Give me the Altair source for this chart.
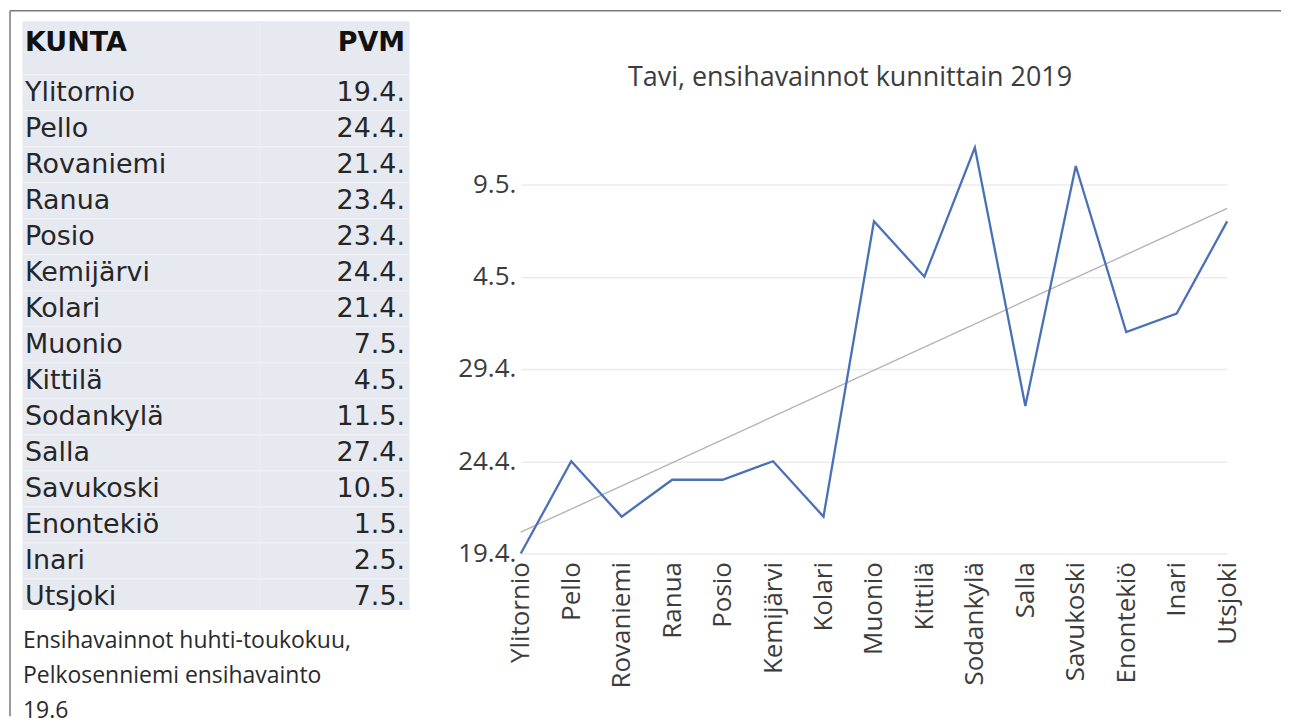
import altair as alt
import pandas as pd
from datetime import date

# ---------------- data ----------------
kunnat = ["Ylitornio", "Pello", "Rovaniemi", "Ranua", "Posio", "Kemijärvi", "Kolari",
          "Muonio", "Kittilä", "Sodankylä", "Salla", "Savukoski", "Enontekiö", "Inari", "Utsjoki"]
pvm = ["19.4.", "24.4.", "21.4.", "23.4.", "23.4.", "24.4.", "21.4.",
       "7.5.", "4.5.", "11.5.", "27.4.", "10.5.", "1.5.", "2.5.", "7.5."]
y_tick_labels = ["19.4.", "24.4.", "29.4.", "4.5.", "9.5."]
header = ["KUNTA", "PVM"]
notes = ["Ensihavainnot huhti-toukokuu,", "Pelkosenniemi ensihavainto", "19.6"]
title_text = "Tavi, ensihavainnot kunnittain 2019"


def to_date(s):
    d, m = s.strip(".").split(".")
    return date(2019, int(m), int(d))


base_day = to_date(y_tick_labels[0])
days = [(to_date(s) - base_day).days for s in pvm]
tick_days = [(to_date(s) - base_day).days for s in y_tick_labels]

df = pd.DataFrame({"idx": list(range(len(kunnat))), "kunta": kunnat, "pvm": pvm, "days": days})
seps = pd.DataFrame({"sep": [i - 0.5 for i in range(len(kunnat))]})
one = pd.DataFrame({"a": [0]})

# ---------------- table (left) ----------------
TABLE_W, TABLE_H = 388, 590
FIRST_ROW, ROW_H = 72, 36.1
TFONT = "DejaVu Sans"
TCOL = "#262626"

tab_scale = alt.Scale(domain=[-FIRST_ROW / ROW_H, (TABLE_H - FIRST_ROW) / ROW_H],
                      reverse=True, nice=False, zero=False)
y_tab = alt.Y("idx:Q", axis=None, scale=tab_scale)

sep_rules = alt.Chart(seps).mark_rule(color="#f1f2f6", strokeWidth=1.2).encode(
    y=alt.Y("sep:Q", axis=None, scale=tab_scale),
    x=alt.value(0), x2=alt.value(TABLE_W))
vsep = alt.Chart(one).mark_rule(color="#eceef4", strokeWidth=1.2).encode(
    x=alt.value(238), y=alt.value(0), y2=alt.value(TABLE_H))

names = alt.Chart(df).mark_text(align="left", baseline="middle", font=TFONT, fontSize=27,
                                color=TCOL).encode(x=alt.value(3), y=y_tab, text="kunta:N")
dates = alt.Chart(df).mark_text(align="right", baseline="middle", font=TFONT, fontSize=27,
                                color=TCOL).encode(x=alt.value(384), y=y_tab, text="pvm:N")
h1 = alt.Chart(pd.DataFrame({"t": [header[0]]})).mark_text(
    align="left", baseline="middle", font=TFONT, fontSize=27, fontWeight="bold", color="#111111"
).encode(x=alt.value(3), y=alt.value(22), text="t:N")
h2 = alt.Chart(pd.DataFrame({"t": [header[1]]})).mark_text(
    align="right", baseline="middle", font=TFONT, fontSize=27, fontWeight="bold", color="#111111"
).encode(x=alt.value(384), y=alt.value(22), text="t:N")
note_txt = alt.Chart(pd.DataFrame({"t": ["\n".join(notes)]})).mark_text(
    align="left", baseline="top", font="Open Sans", fontSize=23, color="#2a2a2a",
    lineBreak="\n", lineHeight=35
).encode(x=alt.value(1), y=alt.value(611), text="t:N")
frame_top = alt.Chart(one).mark_rule(color="#7a7a7a", strokeWidth=1.5).encode(
    x=alt.value(-12), x2=alt.value(1262), y=alt.value(-10))
frame_left = alt.Chart(one).mark_rule(color="#7a7a7a", strokeWidth=1.5).encode(
    x=alt.value(-12), y=alt.value(-10), y2=alt.value(697))

table = alt.layer(sep_rules, vsep, names, dates, h1, h2, note_txt, frame_top, frame_left).properties(
    width=TABLE_W, height=TABLE_H,
    view=alt.ViewBackground(fill="#e7e9f1", stroke="transparent"))

# ---------------- line chart (right) ----------------
PLOT_W, PLOT_H = 708, 534
PX_PER_DAY = 18.5
LFONT = "Open Sans"
LCOL = "#3c3c3c"

names_js = "[" + ",".join("'" + k + "'" for k in kunnat) + "]"
ylab_js = "[" + ",".join("'" + s + "'" for s in y_tick_labels) + "]"
yval_js = "[" + ",".join(str(v) for v in tick_days) + "]"

x_enc = alt.X("idx:Q", title=None,
              scale=alt.Scale(domain=[0, len(kunnat) - 1], nice=False, zero=False),
              axis=alt.Axis(values=list(range(len(kunnat))), labelExpr=names_js + "[datum.value]",
                            labelAngle=-90, labelFont=LFONT, labelFontSize=26, labelColor=LCOL,
                            ticks=False, domain=False, grid=False, labelPadding=8))
y_enc = alt.Y("days:Q", title=None,
              scale=alt.Scale(domain=[0, PLOT_H / PX_PER_DAY], nice=False, zero=False),
              axis=alt.Axis(values=tick_days,
                            labelExpr=ylab_js + "[indexof(" + yval_js + ", datum.value)]",
                            labelFont=LFONT, labelFontSize=26, labelColor=LCOL,
                            ticks=False, domain=False, grid=True, gridColor="#ececec",
                            gridWidth=1.5, labelPadding=5))

base = alt.Chart(df)
trend = base.transform_regression("idx", "days", extent=[0, len(kunnat) - 1]).mark_line(
    color="#b4b4b4", strokeWidth=1.4).encode(x=x_enc, y=y_enc)
series = base.mark_line(color="#4a70b8", strokeWidth=2.3).encode(x=x_enc, y=y_enc)
title = alt.Chart(pd.DataFrame({"t": [title_text]})).mark_text(
    align="center", baseline="middle", font=LFONT, fontSize=27, color=LCOL
).encode(x=alt.value(330), y=alt.value(57), text="t:N")

line_chart = alt.layer(trend, series, title).properties(width=PLOT_W, height=PLOT_H)

chart = alt.hconcat(table, line_chart, spacing=112, bounds="flush").properties(
    padding=0
).configure_view(stroke="transparent")

chart.save("out.html", embed_options={"renderer": "svg", "actions": False})
